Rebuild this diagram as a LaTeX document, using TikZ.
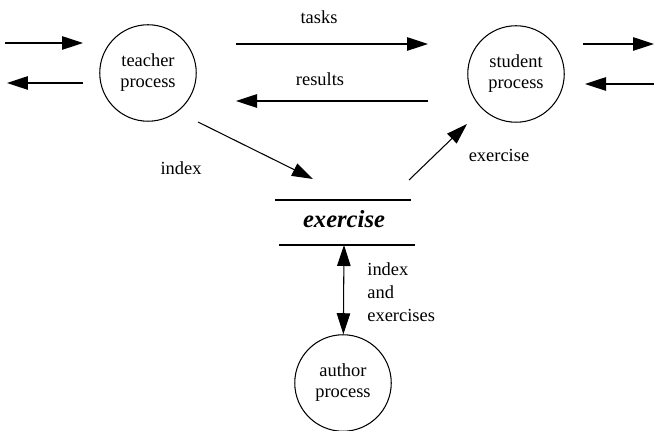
\documentclass[tikz,border=0pt]{standalone}
\usepackage{fontspec}
\setmainfont{Liberation Serif}
\usetikzlibrary{arrows.meta}

\begin{document}
\begin{tikzpicture}
[x=0.02cm,y=-0.02cm,line width=0.6pt,
 >={Triangle[length=0.42cm,width=0.27cm]},
 every node/.style={font=\fontsize{10.5}{12}\selectfont,align=center},
 proc/.style={circle,draw,minimum size=1.93cm,inner sep=0pt}]

  \useasboundingbox (0,0) rectangle (655,431);

  % processes
  \node[proc] (teacher) at (148,73) {teacher\\process};
  \node[proc] (student) at (516,74) {student\\process};
  \node[proc] (author) at (343,383) {author\\process};

  % data store
  \node[font=\fontsize{14}{16}\selectfont\bfseries\itshape] (store) at (344,219) {exercise};
  \coordinate (st1) at (275,200);
  \coordinate (st2) at (411,200);
  \coordinate (sb1) at (279,245);
  \coordinate (sb2) at (415,245);
  \draw (st1) -- (st2);
  \draw (sb1) -- (sb2);

  % arrow ends
  \coordinate (lin1) at (5,43);
  \coordinate (lin2) at (83,43);
  \coordinate (lout1) at (83,83);
  \coordinate (lout2) at (7,83);
  \coordinate (ta) at (236,44);
  \coordinate (tb) at (428,44);
  \coordinate (ra) at (428,101);
  \coordinate (rb) at (236,101);
  \coordinate (ia) at (198,122);
  \coordinate (ib) at (313,179);
  \coordinate (ea) at (409,180);
  \coordinate (eb) at (467,124);
  \coordinate (rin1) at (583,44);
  \coordinate (rin2) at (654,44);
  \coordinate (rout1) at (654,84);
  \coordinate (rout2) at (585,84);
  \coordinate (sd) at (344,245);

  \foreach \from/\to in {lin1/lin2, lout1/lout2, ta/tb, ra/rb, ia/ib, ea/eb, rin1/rin2, rout1/rout2}
    \draw[->] (\from) -- (\to);
  \draw[<->] (sd) -- (author);

  % flow labels
  \node (tasks) at (319,17) {tasks};
  \node (results) at (320,79) {results};
  \node (index) at (181,168) {index};
  \node (exer) at (499,155) {exercise};
  \node[anchor=west,align=left,font=\fontsize{10.5}{13}\selectfont] (both) at (361,292)
    {index\\and\\exercises};

\end{tikzpicture}
\end{document}
